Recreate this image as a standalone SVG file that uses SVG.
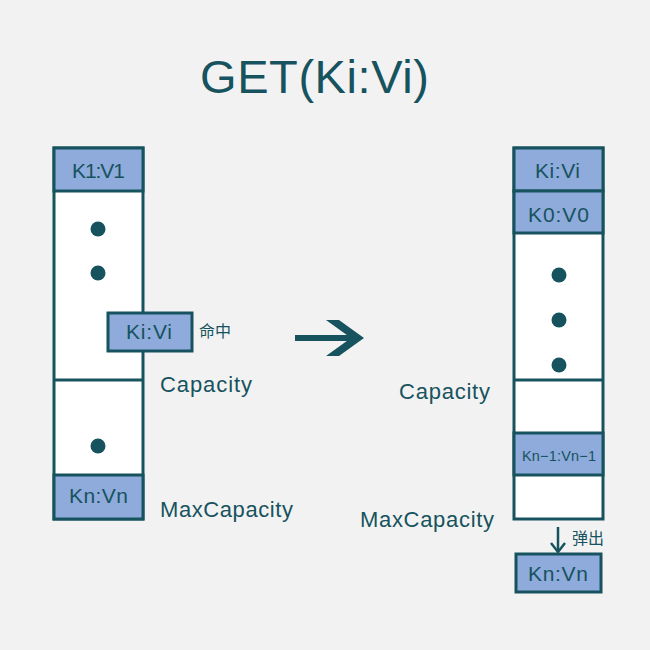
<svg xmlns="http://www.w3.org/2000/svg" width="650" height="650" viewBox="0 0 650 650">
<style>
.bg{fill:#f2f2f2}
.frame{fill:#ffffff;stroke:#17535e;stroke-width:3}
.cell{fill:#8eabdc;stroke:#17535e;stroke-width:3}
.div{stroke:#17535e;stroke-width:3}
.dot{fill:#17535e}
.t{font-family:"Liberation Sans","Noto Sans CJK SC",sans-serif;fill:#17535e}
.ct{font-size:21px;text-anchor:middle}
.lbl{font-size:22px}
.cn{font-family:"Noto Sans CJK SC",sans-serif;font-size:16px;fill:#17535e}
</style>
<rect class="bg" x="0" y="0" width="650" height="650"/>
<text class="t" x="314.5" y="93" font-size="47" text-anchor="middle" textLength="229">GET(Ki:Vi)</text>

<g id="left-cache">
<rect class="frame" x="54" y="148" width="89" height="371"/>
<rect class="cell" x="54" y="148" width="89" height="43"/>
<text class="t ct" x="98.5" y="178" textLength="53">K1:V1</text>
<circle class="dot" cx="98" cy="229" r="7.5"/>
<circle class="dot" cx="98" cy="273" r="7.5"/>
<line class="div" x1="54" y1="380" x2="143" y2="380"/>
<circle class="dot" cx="98" cy="446" r="7.5"/>
<rect class="cell" x="54" y="475" width="89" height="44"/>
<text class="t ct" x="98.5" y="503" textLength="59">Kn:Vn</text>
</g>

<g id="hit-item">
<rect class="cell" x="108" y="313" width="84" height="38"/>
<text class="t ct" x="149" y="339" textLength="46">Ki:Vi</text>
<text class="cn" x="199" y="337">命中</text>
</g>

<g id="left-labels">
<text class="t lbl" x="160" y="392" textLength="92">Capacity</text>
<text class="t lbl" x="160" y="517" textLength="133">MaxCapacity</text>
</g>

<g id="right-cache">
<rect class="frame" x="514" y="148" width="89" height="371"/>
<rect class="cell" x="514" y="148" width="89" height="43"/>
<text class="t ct" x="557.5" y="178" textLength="45">Ki:Vi</text>
<rect class="cell" x="514" y="191" width="89" height="42"/>
<text class="t ct" x="558.5" y="222" textLength="61">K0:V0</text>
<circle class="dot" cx="559" cy="275" r="7.5"/>
<circle class="dot" cx="559" cy="320" r="7.5"/>
<circle class="dot" cx="559" cy="365" r="7.5"/>
<line class="div" x1="514" y1="380" x2="603" y2="380"/>
<rect class="cell" x="514" y="433" width="89" height="42"/>
<text class="t" x="559" y="461" font-size="14.5" text-anchor="middle" textLength="74">Kn−1:Vn−1</text>
</g>

<g id="right-labels">
<text class="t lbl" x="399" y="399" textLength="91">Capacity</text>
<text class="t lbl" x="360" y="527" textLength="134">MaxCapacity</text>
</g>

<g id="evicted">
<rect class="cell" x="516" y="554" width="85" height="38"/>
<text class="t ct" x="558" y="581" textLength="60">Kn:Vn</text>
<text class="cn" x="572" y="544">弹出</text>
</g>

<g id="connectors">
<rect x="295" y="335" width="58" height="6" fill="#17535e"/>
<polygon points="326,320 339,320 364,338 339,356 326,356 351,338" fill="#17535e"/>
<line x1="558" y1="527" x2="558" y2="552" stroke="#17535e" stroke-width="2.5"/>
<polyline points="551,543 558,552 565,543" fill="none" stroke="#17535e" stroke-width="2.5"/>
</g>
</svg>
